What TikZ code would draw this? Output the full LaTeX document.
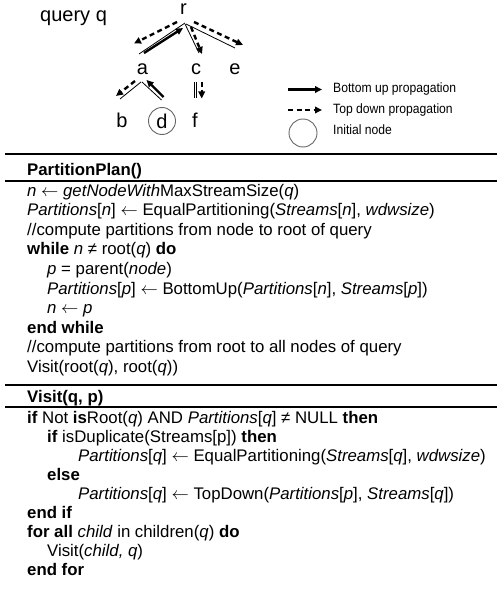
\documentclass[tikz,border=0pt]{standalone}
\usepackage{fontspec}
\setmainfont{Liberation Sans}
\usepackage{graphicx}
\usetikzlibrary{arrows.meta}
\newcommand\ib[1]{\textbf{#1}}
\newcommand\ii[1]{\textit{#1}}
\newcommand\la{\(\leftarrow\)}
\begin{document}
\begin{tikzpicture}[x=1pt,y=-1pt,
  treelbl/.style={font=\fontsize{20}{20}\selectfont, inner sep=0pt, anchor=base},
  edge/.style={line width=0.8pt},
  buarrow/.style={line width=2.4pt, -{Triangle[length=7pt,width=6.5pt]}},
  tdarrow/.style={line width=2.4pt, dash pattern=on 5pt off 3.5pt, -{Triangle[length=7pt,width=6.5pt]}},
  algo/.style={anchor=base west, inner sep=0pt, font=\fontsize{16.8}{16.8}\selectfont},
  rulel/.style={line width=1.1pt},
  legtxt/.style={anchor=west, inner sep=0pt, font=\fontsize{13.5}{13.5}\selectfont},
  initc/.style={circle, draw=black!60, line width=0.9pt, inner sep=0pt, minimum size=27pt}
]
\useasboundingbox (0,0) rectangle (497,591);
% tree
\node[treelbl, anchor=base west] (query) at (40,22) {query q};
\node[treelbl] (r) at (183.5,15) {r};
\node[treelbl] (a) at (142.5,75) {a};
\node[treelbl] (c) at (196,75) {c};
\node[treelbl] (e) at (235,75) {e};
\node[treelbl] (b) at (122,128) {b};
\node[treelbl] (f) at (195,128) {f};
\node[initc, font=\fontsize{20}{20}\selectfont] (d) at (162,121) {d};
% edge end points
\coordinate (ra1) at (185,23);   \coordinate (ra2) at (139,54);
\coordinate (rc1) at (185,24);   \coordinate (rc2) at (199,53);
\coordinate (re1) at (186,24);   \coordinate (re2) at (235,48);
\coordinate (ab1) at (141,82);   \coordinate (ab2) at (120,99);
\coordinate (ad1) at (142,82);   \coordinate (ad2) at (161.5,100);
\coordinate (cf1) at (195.5,82); \coordinate (cf2) at (195.5,98);
\draw[edge] (ra1) -- (ra2);
\draw[edge] (rc1) -- (rc2);
\draw[edge] (re1) -- (re2);
\draw[edge] (ab1) -- (ab2);
\draw[edge] (ad1) -- (ad2);
\draw[edge, double, double distance=1.6pt, line width=0.7pt] (cf1) -- (cf2);
% propagation arrows
\coordinate (tdra1) at (177,22);  \coordinate (tdra2) at (134,43.5);
\coordinate (bura1) at (144,53);  \coordinate (bura2) at (183,28);
\coordinate (tdrc1) at (191,27);  \coordinate (tdrc2) at (202,54);
\coordinate (tdre1) at (194,22);  \coordinate (tdre2) at (243,45);
\coordinate (tdab1) at (135,81);  \coordinate (tdab2) at (116,96);
\coordinate (buda1) at (163.5,97);\coordinate (buda2) at (146.5,80);
\coordinate (tdcf1) at (201.7,82);\coordinate (tdcf2) at (201.7,98.5);
\draw[tdarrow] (tdra1) -- (tdra2);
\draw[buarrow] (bura1) -- (bura2);
\draw[tdarrow] (tdrc1) -- (tdrc2);
\draw[tdarrow] (tdre1) -- (tdre2);
\draw[tdarrow] (tdab1) -- (tdab2);
\draw[buarrow] (buda1) -- (buda2);
\draw[tdarrow] (tdcf1) -- (tdcf2);
% legend
\coordinate (lg1a) at (288,89.5); \coordinate (lg1b) at (322,89.5);
\coordinate (lg2a) at (288,110);  \coordinate (lg2b) at (322,110);
\draw[buarrow] (lg1a) -- (lg1b);
\draw[tdarrow] (lg2a) -- (lg2b);
\node[initc, minimum size=28pt] (lgc) at (303,133) {};
\node[legtxt] (lt1) at (333,89.5) {\scalebox{0.9}[1]{Bottom up propagation}};
\node[legtxt] (lt2) at (333,110) {\scalebox{0.9}[1]{Top down propagation}};
\node[legtxt] (lt3) at (333,130) {\scalebox{0.9}[1]{Initial node}};
% rules
\draw[rulel] (5,154) -- (497,154);
\draw[rulel] (5,181) -- (497,181);
\draw[rulel] (5,385) -- (497,385);
\draw[rulel] (5,407) -- (497,407);
% algorithm
\node[algo] (h1) at (27,175) {\ib{PartitionPlan()}};
\node[algo] (l1) at (27,196) {\ii{n} \la{} \ii{getNodeWith}MaxStreamSize(\ii{q})};
\node[algo] (l2) at (27,215.6) {\ii{Partitions}[\ii{n}] \la{} EqualPartitioning(\ii{Streams}[\ii{n}], \ii{wdwsize})};
\node[algo] (l3) at (27,235.2) {//compute partitions from node to root of query};
\node[algo] (l4) at (27,254.8) {\ib{while} \ii{n} ≠ root(\ii{q}) \ib{do}};
\node[algo] (l5) at (47,274.4) {\ii{p} = parent(\ii{node})};
\node[algo] (l6) at (47,294) {\ii{Partitions}[\ii{p}] \la{} BottomUp(\ii{Partitions}[\ii{n}], \ii{Streams}[\ii{p}])};
\node[algo] (l7) at (47,313.6) {\ii{n} \la{} \ii{p}};
\node[algo] (l8) at (27,333.2) {\ib{end while}};
\node[algo] (l9) at (27,352.8) {//compute partitions from root to all nodes of query};
\node[algo] (l10) at (27,372.4) {Visit(root(\ii{q}), root(\ii{q}))};
\node[algo] (h2) at (27,402) {\ib{Visit(q, p)}};
\node[algo] (m1) at (27,423) {\ib{if} Not \ib{is}Root(\ii{q}) AND \ii{Partitions}[\ii{q}] ≠ NULL \ib{then}};
\node[algo] (m2) at (47,442.1) {\ib{if} isDuplicate(Streams[p]) \ib{then}};
\node[algo] (m3) at (78,461.2) {\ii{Partitions}[\ii{q}] \la{} EqualPartitioning(\ii{Streams}[\ii{q}], \ii{wdwsize})};
\node[algo] (m4) at (47,480.3) {\ib{else}};
\node[algo] (m5) at (78,499.4) {\ii{Partitions}[\ii{q}] \la{} TopDown(\ii{Partitions}[\ii{p}], \ii{Streams}[\ii{q}])};
\node[algo] (m6) at (27,518.5) {\ib{end if}};
\node[algo] (m7) at (27,537.6) {\ib{for all} \ii{child} in children(\ii{q}) \ib{do}};
\node[algo] (m8) at (47,556.7) {Visit(\ii{child, q})};
\node[algo] (m9) at (27,575.8) {\ib{end for}};
\end{tikzpicture}
\end{document}
